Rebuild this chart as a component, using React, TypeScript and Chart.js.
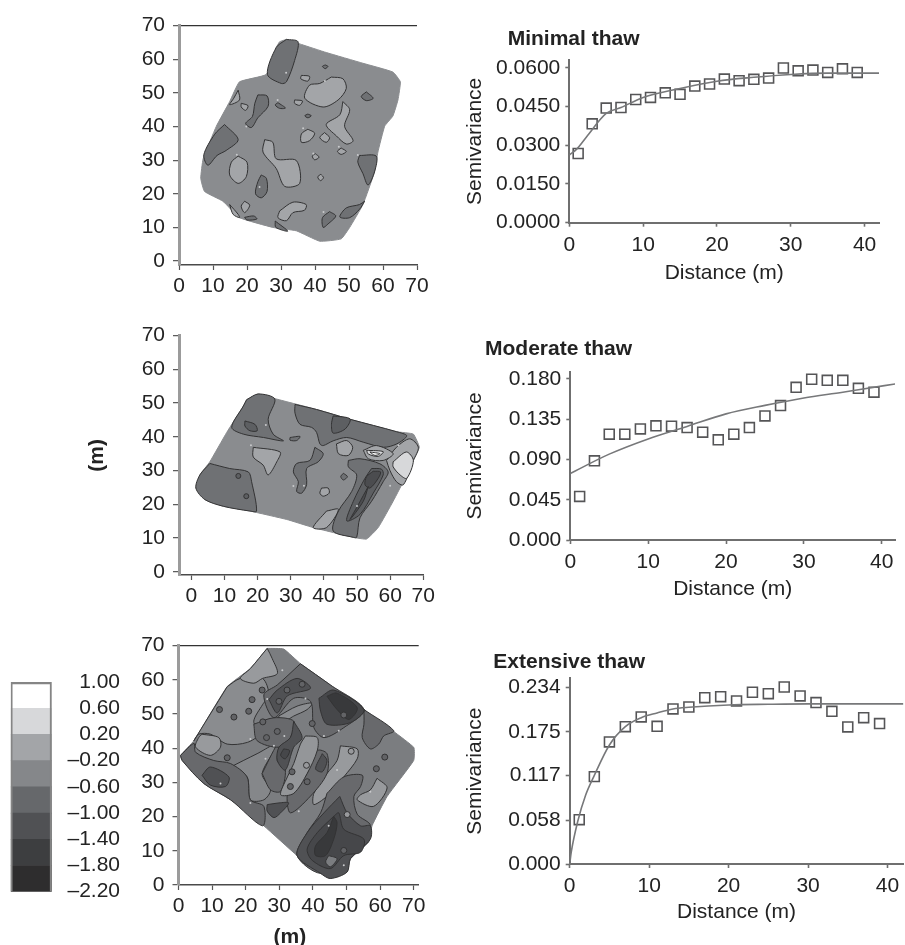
import React, { useEffect, useRef } from "react";
import { Chart, registerables } from "chart.js";

Chart.register(...registerables);

type P = [number, number];

const FONT = "'Liberation Sans', Arial, sans-serif";
const FS = 21;
const INK = "#232323";

// Legend
const LEGEND_TICKS = [-2.2, -1.8, -1.4, -1.0, -0.6, -0.2, 0.2, 0.6, 1.0];
const LEGEND_COLORS = ["#2e2d2e", "#3d3e40", "#505154", "#66686b", "#85878a", "#a3a5a8", "#d7d8da", "#ffffff"];
const [, , L5, , , L2, L1] = LEGEND_COLORS;
const MIDDLE = "#8a8c8f";

// Map ticks
const MAP_TICKS = [0, 10, 20, 30, 40, 50, 60, 70];

// Minimal-thaw map (metres)
const M1_OUTLINE: P[] = [[31.6,65.9],[36,64.4],[43.3,62],[54.1,58.8],[62.9,56.2],[65.1,53.3],[64.4,47.9],[62.9,43.1],[60.5,40.1],[58.5,32.4],[57.5,26.5],[54.1,16.8],[50.2,10],[47.7,6.6],[41.4,5.9],[34.5,9],[27.6,10],[17.8,12.9],[12.9,17.8],[7.5,20.7],[6.4,24.6],[7.1,30.4],[11,40.1],[14.9,47.4],[17.8,53.3],[25.7,55.5],[28.6,63.5],[29.6,65.2]];
const M1_DARK: P[][] = [
  [[31.6,65.9],[35,65.2],[34,59.6],[31.6,53.3],[30.1,52.8],[26,55.5],[28.6,63.5]],
  [[13.4,40.6],[17.4,36.1],[13.9,32.9],[11.2,31.4],[8.5,28.5],[7.3,31.6],[10.5,37.7]],
  [[23.2,49.4],[25.9,49.1],[26.2,46],[23.2,42.6],[21.3,39.7],[19.6,40.9],[21.6,43],[22.3,46.9]],
  [[24.2,25.6],[25.7,24.6],[25.9,20.7],[24.2,18.8],[22.5,20],[23.2,23.6]],
  [[53.1,31.4],[58,31.2],[57.5,26.5],[55.6,22.6],[54.1,26],[52.6,29.4]],
  [[44.3,14.7],[46.1,13.4],[43.8,11],[42.4,10],[42.2,12.9]],
  [[54.6,17.8],[53.1,15.4],[50.2,12.9],[47.3,13.1],[49.2,15.8],[53.1,16.8]],
  [[55.1,50.3],[57.1,48.4],[55.1,47.7],[53.6,48.9]],
  [[29.1,47.1],[31.3,45.5],[29.6,45.4],[28.3,46.4]],
  [[37.9,43.7],[38.9,43.2],[37.9,42.6],[37,43.2]],
  [[43,58.3],[43.8,57.9],[43,57.2],[42.2,57.9]],
  [[19.3,13],[22,13.4],[22.9,12.5],[20,12.2]],
  [[28.3,11.9],[32,8.9],[28.5,10]],
];
const M1_LIGHT: P[][] = [
  [[44.8,54.7],[48.2,54.2],[49.2,51.3],[46.8,47.9],[42.4,45.8],[37,48.4],[38.4,52.3],[41.4,52.8]],
  [[48.2,47.4],[50.2,45],[48.7,40.1],[51.2,35.8],[49.2,34.8],[46.3,37.2],[43.3,40.6],[47.3,43.5]],
  [[25.2,36.1],[27.6,35.3],[28.6,30.4],[34.5,29.9],[35.5,23.1],[31.1,22.2],[28.6,27.5],[24.7,32.4]],
  [[17.4,31.2],[20,29.4],[19.8,25.1],[17.4,23.1],[14.9,25.6],[15.4,29.4]],
  [[37.9,39.2],[39.9,38],[38.4,35.8],[36,35.3],[36,37.8]],
  [[42.8,38.2],[44.3,36.7],[43.3,35.3],[41.4,36.7]],
  [[36,55.2],[38.4,54.9],[37.9,53.5],[35.8,54.2]],
  [[34,47.9],[36.3,47.6],[35.5,46.3],[34,46.9]],
  [[29.6,14.9],[33.5,17.5],[37.4,16.8],[36.9,15.1],[33.5,14.4],[31.6,12],[29.1,12.9]],
  [[19.3,17.8],[20.8,16.6],[19.3,14.4],[18.3,16.3]],
  [[14.9,16.8],[17.4,13.9],[17.8,12.9],[15.9,13.9]],
  [[18.3,46.9],[20.3,46.2],[19.6,44.8],[18.3,45.8]],
  [[17.4,50.8],[17.8,47.9],[14.9,46.5],[16.1,48.4]],
  [[40.1,31.9],[41.2,30.9],[39.9,30.1],[39.2,31.2]],
  [[41.7,25.8],[42.5,24.8],[41.6,23.9],[40.8,25]],
  [[47.7,33.6],[49.2,32.6],[47.7,31.7],[46.6,32.6]],
];
const M1_SPECKS: P[] = [[42.9,53.5],[36.5,39.5],[31.5,56],[29,47.9],[19.8,40],[17,31.6],[23.7,22],[39.5,32],[52.6,31.5],[42.5,14.6],[47,34]];

// Moderate-thaw map
const M2_OUTLINE: P[] = [[16.7,51],[20.2,52.7],[25.7,51.2],[37.8,48.1],[47.9,45.2],[62,41.5],[67,40.8],[68.8,36.9],[67,33],[65,28.7],[60.9,20.9],[56.4,13.1],[52.9,9.7],[48.9,10.2],[36.8,13.1],[28.8,15.5],[17.7,18],[9.7,19.4],[4.1,21.4],[1.4,24.8],[2.6,28.7],[5.6,32.6],[10.7,41.3],[15.7,49.1]];
const M2_DARK: P[][] = [
  [[16.7,51],[20.2,52.7],[25.2,51.2],[23.2,45.2],[24.7,40.8],[27.8,38.8],[21.8,39.8],[15.7,40.8],[12.2,42.8],[15.7,49.1]],
  [[31.3,49.6],[37.8,48.1],[47.9,45.2],[62,41.5],[65,40.3],[62,37.9],[58,36.9],[51.9,38.4],[46.9,39.8],[42.8,38.8],[39.8,37.4],[38.8,37.9],[37.8,41.3],[36.3,42.8],[32.8,43.7],[31.3,47]],
  [[37.3,36.9],[39.8,35],[38.3,32.6],[34.8,30.6],[34.8,25.8],[33.3,23.3],[31.8,23.8],[32.3,26.7],[30.8,29.6],[31.8,32.1],[35.8,33]],
  [[5.6,32.1],[11.6,30.6],[17.2,29.6],[18.2,26.7],[19.7,18],[17.7,18],[9.7,19.4],[4.1,21.4],[1.4,24.8],[2.6,28.7]],
  [[29.8,39.8],[32.8,40.1],[31.8,38.9],[29.8,39]],
  [[45.9,29.2],[47.1,28.2],[45.9,27.2],[45.1,28.2]],
  [[47.4,33],[50.9,33.5],[56.9,32],[59.4,29.6],[57.9,26.7],[54.4,20.9],[50.9,16],[49.9,10.2],[48.9,10.2],[42.8,12.1],[44.4,18],[48.4,23.8],[49.9,28.7],[47.4,31.1]],
];
const M2_DARKER: P[][] = [
  [[16.2,44.7],[19.2,43.7],[19.9,41.8],[17.7,41.8],[16.2,43.2]],
  [[42.8,46.2],[47.9,45.3],[46.4,42.3],[42.8,41.1],[42.3,43.7]],
  [[54.4,30.6],[57.4,30.4],[57.9,28.7],[54.9,23.3],[50.9,17],[46.9,15.1],[48.9,20.9],[52.4,27.7]],
];
const M2_DARKEST: P[][] = [
  [[54.9,29.8],[57.1,29.6],[56.4,27.7],[53.9,24.8],[52.4,25.8],[52.9,28.2]],
  [[53.4,25.3],[51.9,20.9],[47.9,15.5],[50.4,19.9]],
];
const M2_LIGHT: P[][] = [
  [[18.7,36.9],[26.8,35.5],[25.8,32.6],[23.2,28.7],[21.7,31.6],[18.7,34]],
  [[43.8,37.9],[46.9,38.9],[48.7,36.9],[47.4,34.5],[44.4,35]],
  [[39.3,24.8],[41.3,24.8],[41.6,23.3],[39.8,22.4],[38.8,23.3]],
  [[40.8,18],[44.4,18.5],[40.8,13.1],[36.8,13.1]],
  [[58.9,33],[61.9,36.9],[65.9,39.4],[68.5,36.9],[67,33],[64,25.8],[61.9,26.7],[59.9,30.1]],
  [[51.9,36],[55.9,37.4],[60.9,35],[57.9,33],[53.4,33.5]],
];
const M2_PALE: P[][] = [
  [[60.9,32.6],[64.9,35.5],[67,33],[65,27.7],[63,28.7],[60.9,31.1]],
  [[52.9,36],[57.9,35.6],[56.4,34.2],[53.4,34.9]],
];
const M2_WHITE: P[][] = [[[53.9,35.5],[56.9,35],[55.4,34.5]]];
const M2_BLOBS: P[] = [[14.2,28.4],[16.6,22.4]];
const M2_SPECKS: P[] = [[22.5,43.5],[30.8,25.4],[34,25.5],[50,19.5],[60,25.5],[62.5,37.5],[18,37.5]];

// Extensive-thaw map
const M3_OUTLINE: P[] = [[26.4,69.2],[31.3,69],[36.3,64.7],[45.2,58.5],[55.2,51.3],[70,40.3],[70,36.4],[62.1,25.9],[57.6,17.3],[56.6,12.5],[51.2,7.7],[50.2,3.8],[45.2,1.9],[42.3,3.4],[35.3,8.6],[25.4,17.3],[15.5,24.9],[7.5,29.7],[1.1,36.4],[0.6,37.9],[4.6,42.2],[14.5,58],[21.4,63.3]];
const M3_WEST: P[][] = [
  [[14.5,58],[18.4,60.4],[25,60.4],[26.9,55.6],[25,52.7],[22.4,47.9],[23.9,44.1],[20.5,41.7],[14.5,41.2],[9.5,44.1],[6,44.1],[4.6,42.2]],
  [[29.8,49.4],[35.3,52.3],[39.8,53.2],[38.3,51.3],[34.3,49.4],[30.8,47.5]],
];
const M3_MID_LIGHT: P[][] = [
  [[15.5,34.5],[23.4,38.4],[29.4,41.2],[24.9,32.6],[27.4,27.8],[25.4,24.9],[21.4,24.9],[20.4,31.6]],
];
const M3_LIGHT: P[][] = [
  [[26.4,69.2],[27.9,66.2],[29.4,61.8],[25,60.4],[22.4,59],[18.4,60.4],[21.4,63.3]],
  [[48.2,40.7],[53.2,39.8],[53.2,36.9],[49.2,31.6],[45.2,26.8],[40.3,23.5],[40.3,26.8],[44.2,32.6],[47.2,36.4]],
  [[59.1,31.2],[62.1,28.4],[58.1,23],[53.2,24.9],[54.2,26.4],[57.1,27.8]],
  [[7,44.1],[12,43.1],[12.5,40.3],[9.5,37.9],[5.1,40.3],[6,43.1]],
];
const M3_STRIP: P[][] = [
  [[37.8,43.6],[41.3,43.1],[41.3,39.3],[38.3,32.6],[34.3,26.8],[30.4,26.4],[32.4,31.6],[34.3,35.5],[36.3,41.2]],
];
const M3_DARK: P[][] = [
  [[0.6,37.9],[4.6,41.4],[5.1,38.8],[10.5,36.4],[15.5,35.5],[20.4,31.6],[21.4,24.9],[25.4,23],[25,17.3],[15.5,24.9],[7.5,29.7],[1.1,36.4]],
  [[55.2,51.3],[64.1,45.1],[61.1,43.6],[59.6,41.2],[57.1,39.8],[54.7,43.1],[55.2,47]],
  [[24.9,32.6],[29.4,41.2],[29.9,40.3],[29.4,36.4],[31.8,33.6],[30.4,27.4],[27.4,27.8]],
  [[22.4,47],[28.4,48.9],[34.3,47.9],[33.3,43.1],[29.9,40.3],[23.4,42.2]],
  [[38.3,32.6],[41.3,39.3],[44.2,38.4],[44.2,32.6],[39.3,26],[33.3,21.1],[32.4,26.8],[34.3,26.8]],
  [[44.2,26.8],[49.2,31.6],[54.7,32.1],[54.2,28.8],[52.2,25.9],[53.2,20.7],[57.1,17.3],[51.2,7.7],[42.3,3.4],[35.3,8.6],[38.3,15.3],[42.3,21.1]],
  [[36.3,64.7],[45.2,58.5],[55.2,51.3],[49.2,46],[43.3,43.1],[40.3,46],[39.3,53.7],[34.3,54.6],[28.4,48.9],[25.4,55.6],[29.4,58.5]],
];
const M3_DARKER: P[][] = [
  [[7,32.1],[9.5,34.5],[15,31.6],[14,28.8],[9.5,29.2]],
  [[26.4,23.5],[29.9,24],[32.8,24],[30.4,21.1],[28.4,19.7],[26.4,21.6]],
  [[26.9,54.2],[29.4,57],[35.3,60.4],[39.3,57.5],[32.4,55.3],[29.4,50.3]],
  [[34.3,47.9],[36.8,43.1],[34.3,40.3],[31.8,33.6],[29.4,36.4],[29.9,40.3],[33.3,43.1]],
  [[42.8,38.4],[44.2,36.4],[42.8,33.1],[40.8,34]],
  [[48,25.9],[50.2,21.1],[54.2,17.3],[57.1,17.3],[57.1,13.4],[51.2,7.7],[50.2,3.8],[45.2,1.9],[42.3,3.4],[35.3,8.6],[38.3,15.3],[43.3,21.1]],
];
const M3_DEEP: P[][] = [
  [[41.8,54.6],[46.2,57],[55.2,51.3],[51.2,47.5],[44.2,47],[42.3,50.8]],
  [[31.3,39.8],[33.1,39.3],[31.8,36.9],[30.4,37.9]],
  [[46.2,20.1],[47.7,21.1],[49.2,16.3],[55.2,13.4],[54.2,9.6],[49.2,8.6],[45.2,4.8],[39.8,7.2],[38.3,10.5],[41.3,15.3]],
];
const M3_DEEPEST: P[][] = [
  [[44.2,55.2],[47.2,56.1],[53.2,51.8],[50.7,48.4],[47.2,51.3]],
  [[46.2,20.1],[47.2,18.2],[46.2,13.4],[43.8,8.6],[40.8,8.6],[40.8,11.5],[44.2,15.3]],
];
const M3_CENTER_ISLE: P[][] = [[[44.7,8.6],[47.2,7.7],[45.2,5.3],[43.8,6.7]]];
const M3_BLOBS: P[] = [[21.9,54.2],[12.2,51.3],[20.9,50.8],[16.5,49.1],[25.1,47.7],[29.4,44.9],[26.2,43.1],[14.5,37.2],[24.9,57],[32.3,57],[36.8,58.7],[29.9,53.7],[49.2,49.7],[39.8,47.2],[61.4,37.4],[58.9,34],[33.8,33.1],[33.3,28.8],[38.3,30.2],[49.2,10.1]];
const M3_PALE_BLOBS: P[] = [[51.4,39.1],[38.1,35],[50.2,20.6]];
const M3_SPECKS: P[] = [[30.9,62.8],[26.4,54.4],[21.4,42.7],[28.4,40.7],[31.5,43.6],[37.8,54.5],[43.3,43.6],[47.7,45.1],[47.2,33.6],[35.8,21.6],[21.4,24],[25.9,36.9],[44.7,17.3],[49.2,5.8],[57.1,27.3],[12.5,29.7]];

// Semivariograms
const DISTANCE = [1.2, 3.1, 5, 7, 9, 11, 13, 15, 17, 19, 21, 23, 25, 27, 29, 31, 33, 35, 37, 39];
const MIN_GAMMA = [0.0268,0.0383,0.0444,0.0446,0.0477,0.0485,0.0503,0.0497,0.0529,0.0537,0.0556,0.055,0.0555,0.056,0.0599,0.0588,0.0591,0.0582,0.0596,0.0582];
const MOD_GAMMA = [0.0487,0.0885,0.1183,0.1183,0.1242,0.1276,0.1272,0.1257,0.1205,0.112,0.1183,0.1257,0.1387,0.1503,0.1707,0.1797,0.1785,0.1785,0.1696,0.1652];
const EXT_GAMMA = [0.0587,0.1157,0.1616,0.1819,0.1947,0.1823,0.2053,0.2079,0.2203,0.2216,0.2159,0.2274,0.2256,0.2344,0.2225,0.2137,0.2022,0.1815,0.1938,0.1859];
const MIN_FIT: P[] = [[0,0.0262],[1,0.0285],[2.35,0.0333],[5,0.0423],[7,0.0446],[10,0.0485],[15,0.052],[20,0.0548],[25,0.0563],[30,0.0574],[35,0.0579],[42,0.0579]];
const MOD_FIT: P[] = [[0,0.0744],[5,0.096],[10,0.113],[15,0.127],[20,0.141],[25,0.1505],[30,0.1588],[35,0.1652],[37,0.168],[42,0.1748]];
const EXT_FIT: P[] = [[0,0],[0.2,0.016],[1,0.056],[2,0.091],[3,0.115],[5,0.1576],[7,0.1819],[9,0.1938],[11,0.2],[13,0.2053],[15,0.2075],[20,0.2106],[25,0.2115],[30,0.212],[42,0.212]];
const DIST_TICKS = [0, 10, 20, 30, 40];
const MIN_TICKS = [0, 0.015, 0.03, 0.045, 0.06];
const MOD_TICKS = [0, 0.045, 0.09, 0.135, 0.18];
const EXT_TICKS = [0, 0.058, 0.117, 0.175, 0.234];

const font = (weight = "normal") => ({ family: FONT, size: FS, weight, lineHeight: 1.2 });
const LH = FS * 1.2;

type Box = { l: number; r: number; t: number; b: number };

function polyDs(points: P[], color: string, line = "#333334", width = 1, tension = 0.3) {
  return {
    data: points.concat([points[0]]).map(([x, y]) => ({ x, y })),
    showLine: true,
    fill: "shape",
    backgroundColor: color,
    borderColor: line,
    borderWidth: width,
    tension,
    pointRadius: 0,
  };
}
function dotDs(points: P[], color: string, r: number, line: string, w: number) {
  return {
    data: points.map(([x, y]) => ({ x, y })),
    showLine: false,
    backgroundColor: color,
    borderColor: line,
    borderWidth: w,
    pointRadius: r,
    pointStyle: "circle",
  };
}
function stack(list: any[]) {
  return list.map((d, i) => ({ ...d, order: list.length - i }));
}

function fixedTicks(values: number[]) {
  return (axis: any) => {
    axis.ticks = values.map((value) => ({ value }));
  };
}

function mapConfig(o: { canvas: Box; area: Box; xMin: number; xMax: number; yMin: number; top: boolean; sets: any[]; xTitle?: string; yTitle?: string }) {
  const { canvas, area } = o;
  return {
    type: "scatter",
    data: { datasets: stack(o.sets) },
    options: {
      responsive: false,
      animation: false,
      events: [],
      layout: { padding: { left: 0, right: canvas.r - area.r, top: area.t - canvas.t, bottom: 0 } },
      plugins: { legend: { display: false }, tooltip: { enabled: false } },
      scales: {
        x: {
          type: "linear",
          min: o.xMin,
          max: o.xMax,
          afterBuildTicks: fixedTicks(MAP_TICKS),
          afterFit: (s: any) => { s.height = canvas.b - area.b; },
          grid: { drawOnChartArea: false, tickLength: 5, tickColor: "#555", tickWidth: 1.2 },
          border: { color: "#4a4a4a", width: 1.5 },
          ticks: { autoSkip: false, maxRotation: 0, color: INK, font: font(), padding: 3.5 },
          title: o.xTitle ? { display: true, text: o.xTitle, color: INK, font: font("bold"), padding: { top: 0, bottom: 0 } } : { display: false },
        },
        y: {
          type: "linear",
          min: o.yMin,
          max: 70,
          afterBuildTicks: fixedTicks(MAP_TICKS),
          afterFit: (s: any) => { s.width = area.l - canvas.l; },
          grid: {
            drawOnChartArea: o.top,
            tickLength: 6,
            tickColor: "#555",
            tickWidth: 1.2,
            lineWidth: 1.3,
            color: (c: any) => (c.tick && c.tick.value === 70 ? "#333" : "rgba(0,0,0,0)"),
          },
          border: { color: "#9b9b9b", width: 3 },
          ticks: { autoSkip: false, color: INK, font: font(), padding: 8 },
          title: o.yTitle ? { display: true, text: o.yTitle, color: INK, font: font("bold"), padding: { top: 0, bottom: 0 } } : { display: false },
        },
      },
    },
  };
}

function varioConfig(o: { canvas: Box; area: Box; title: string; titleX: number; xMax: number; yMax: number; ticks: number[]; digits: number; values: number[]; fit: P[] }) {
  const { canvas, area } = o;
  const axisBorder = { color: "#6f6f6f", width: 2 };
  return {
    type: "scatter",
    data: {
      datasets: stack([
        {
          data: DISTANCE.map((x, i) => ({ x, y: o.values[i] })),
          showLine: false,
          pointStyle: "rect",
          pointRadius: 7,
          borderWidth: 1.6,
          borderColor: "#555557",
          backgroundColor: "rgba(0,0,0,0)",
        },
        {
          data: o.fit.map(([x, y]) => ({ x, y })),
          showLine: true,
          pointRadius: 0,
          borderWidth: 1.6,
          borderColor: "#77787a",
          cubicInterpolationMode: "monotone",
        },
      ]),
    },
    plugins: [
      {
        id: "titleStart",
        afterLayout(chart: any) {
          if (chart.titleBlock) chart.titleBlock.left = o.titleX - canvas.l;
        },
      },
    ],
    options: {
      responsive: false,
      animation: false,
      events: [],
      layout: { padding: { left: 0, right: canvas.r - area.r, top: 0, bottom: 0 } },
      plugins: {
        legend: { display: false },
        tooltip: { enabled: false },
        title: {
          display: true,
          text: o.title,
          align: "start",
          color: INK,
          font: font("bold"),
          padding: { top: 0, bottom: area.t - canvas.t - LH },
        },
      },
      scales: {
        x: {
          type: "linear",
          min: 0,
          max: o.xMax,
          afterBuildTicks: fixedTicks(DIST_TICKS),
          afterFit: (s: any) => { s.height = canvas.b - area.b; },
          grid: { drawOnChartArea: false, tickLength: 4, tickColor: "#6f6f6f", tickWidth: 1.6 },
          border: axisBorder,
          ticks: { autoSkip: false, maxRotation: 0, color: INK, font: font(), padding: 5.5 },
          title: { display: true, text: "Distance (m)", color: INK, font: font(), padding: { top: 0, bottom: 0 } },
        },
        y: {
          type: "linear",
          min: 0,
          max: o.yMax,
          afterBuildTicks: fixedTicks(o.ticks),
          afterFit: (s: any) => { s.width = area.l - canvas.l; },
          grid: { drawOnChartArea: false, tickLength: 4, tickColor: "#6f6f6f", tickWidth: 1.6 },
          border: axisBorder,
          ticks: {
            autoSkip: false,
            color: INK,
            font: font(),
            padding: 5,
            callback: (v: any) => Number(v).toFixed(o.digits),
          },
          title: { display: true, text: "Semivariance", color: INK, font: font(), padding: { top: 2.4, bottom: 0 } },
        },
      },
    },
  };
}

function legendConfig(canvas: Box, area: Box) {
  const datasets: any[] = LEGEND_COLORS.map((c, i) => ({
    data: [[LEGEND_TICKS[i], LEGEND_TICKS[i + 1]]],
    backgroundColor: c,
    borderWidth: 0,
    barPercentage: 1,
    categoryPercentage: 1,
    order: 2,
  }));
  datasets.push({
    data: [[LEGEND_TICKS[0], LEGEND_TICKS[8]]],
    backgroundColor: "rgba(0,0,0,0)",
    borderColor: "#858585",
    borderWidth: { top: 2, left: 1.5, right: 1.5, bottom: 0 },
    borderSkipped: false,
    barPercentage: 1,
    categoryPercentage: 1,
    order: 1,
  });
  return {
    type: "bar",
    data: { labels: [""], datasets },
    options: {
      responsive: false,
      animation: false,
      events: [],
      layout: { padding: { left: area.l - canvas.l, right: 0, top: area.t - canvas.t, bottom: canvas.b - area.b } },
      plugins: { legend: { display: false }, tooltip: { enabled: false } },
      scales: {
        x: { display: false, stacked: true },
        y: {
          position: "right",
          min: -2.2,
          max: 1,
          afterBuildTicks: fixedTicks(LEGEND_TICKS),
          afterFit: (s: any) => { s.width = canvas.r - area.r; },
          grid: { display: false, drawTicks: false },
          border: { display: false },
          ticks: {
            autoSkip: false,
            crossAlign: "far",
            color: INK,
            font: font(),
            callback: (v: any) => Number(v).toFixed(2).replace("-", "\u2013"),
          },
        },
      },
    },
  };
}

const many = (list: P[][], color: string) => list.map((p) => polyDs(p, color));
const SPECK = "#c9cacc";

const BOX_MAP1: Box = { l: 130, t: 5, r: 440, b: 305 };
const BOX_MAP2: Box = { l: 85, t: 315, r: 445, b: 615 };
const BOX_MAP3: Box = { l: 130, t: 625, r: 440, b: 950 };
const BOX_V1: Box = { l: 460, t: 27, r: 895, b: 286 };
const BOX_V2: Box = { l: 460, t: 337, r: 905, b: 602 };
const BOX_V3: Box = { l: 460, t: 650, r: 912, b: 925 };
const BOX_LEGEND: Box = { l: 0, t: 655, r: 120, b: 915 };

const MAP1 = mapConfig({
  canvas: BOX_MAP1,
  area: { l: 179, r: 417, t: 21, b: 265 },
  xMin: 0, xMax: 70, yMin: -1.17, top: true,
  sets: [polyDs(M1_OUTLINE, MIDDLE, MIDDLE, 1, 0.12), ...many(M1_DARK, "#6f7174"), ...many(M1_LIGHT, L2), dotDs(M1_SPECKS, SPECK, 1, SPECK, 0)],
});
const MAP2 = mapConfig({
  canvas: BOX_MAP2,
  area: { l: 179, r: 423.3, t: 331.7, b: 575 },
  xMin: -3.7, xMax: 70, yMin: -0.96, top: false, yTitle: "(m)",
  sets: [polyDs(M2_OUTLINE, MIDDLE, MIDDLE, 1, 0.12), ...many(M2_DARK, "#6f7174"), ...many(M2_DARKER, "#5d5f62"), ...many(M2_DARKEST, "#4b4c4f"), ...many(M2_LIGHT, L2), ...many(M2_PALE, L1), ...many(M2_WHITE, "#ffffff"), dotDs(M2_BLOBS, "#5d5f62", 2.5, "#333334", 1), dotDs(M2_SPECKS, SPECK, 1, SPECK, 0)],
});
const MAP3 = mapConfig({
  canvas: BOX_MAP3,
  area: { l: 178.5, r: 418.7, t: 641.7, b: 885 },
  xMin: 0, xMax: 71.5, yMin: 0, top: true, xTitle: "(m)\u00a0\u00a0\u00a0",
  sets: [polyDs(M3_OUTLINE, "#7b7d80", "#7b7d80", 1, 0.12), ...many(M3_WEST, MIDDLE), ...many(M3_MID_LIGHT, "#85878a"), ...many(M3_LIGHT, "#989a9d"), ...many(M3_DARK, "#68696c"), ...many(M3_STRIP, "#949699"), ...many(M3_DARKER, L5), ...many(M3_DEEP, "#46474a"), ...many(M3_DEEPEST, "#38393b"), ...many(M3_CENTER_ISLE, "#7b7d80"), dotDs(M3_BLOBS, "#626366", 3, "#333334", 1), dotDs(M3_PALE_BLOBS, "#98999c", 3, "#333334", 1), dotDs(M3_SPECKS, SPECK, 1, SPECK, 0)],
});
const VARIO1 = varioConfig({
  canvas: BOX_V1,
  area: { l: 569.3, r: 879, t: 60, b: 222.7 },
  title: "Minimal thaw", titleX: 507.7, xMax: 41.95, yMax: 0.063, ticks: MIN_TICKS, digits: 4, values: MIN_GAMMA, fit: MIN_FIT,
});
const VARIO2 = varioConfig({
  canvas: BOX_V2,
  area: { l: 570.3, r: 895, t: 372, b: 540 },
  title: "Moderate thaw", titleX: 485, xMax: 41.7, yMax: 0.1878, ticks: MOD_TICKS, digits: 3, values: MOD_GAMMA, fit: MOD_FIT,
});
const VARIO3 = varioConfig({
  canvas: BOX_V3,
  area: { l: 569.7, r: 908.7, t: 678.3, b: 864 },
  title: "Extensive thaw", titleX: 493.3, xMax: 42, yMax: 0.2459, ticks: EXT_TICKS, digits: 3, values: EXT_GAMMA, fit: EXT_FIT,
});
const LEGEND = legendConfig(BOX_LEGEND, { l: 10.7, r: 51.7, t: 682, b: 891.7 });

const PANELS: { key: string; canvas: Box; config: any }[] = [
  { key: "map1", canvas: BOX_MAP1, config: MAP1 },
  { key: "map2", canvas: BOX_MAP2, config: MAP2 },
  { key: "map3", canvas: BOX_MAP3, config: MAP3 },
  { key: "v1", canvas: BOX_V1, config: VARIO1 },
  { key: "v2", canvas: BOX_V2, config: VARIO2 },
  { key: "v3", canvas: BOX_V3, config: VARIO3 },
  { key: "legend", canvas: BOX_LEGEND, config: LEGEND },
];

function Panel({ canvas, config }: { canvas: Box; config: any }) {
  const ref = useRef<HTMLCanvasElement | null>(null);
  useEffect(() => {
    const chart = new Chart(ref.current as HTMLCanvasElement, config);
    return () => chart.destroy();
  }, [config]);
  return (
    <canvas
      ref={ref}
      width={canvas.r - canvas.l}
      height={canvas.b - canvas.t}
      style={{ position: "absolute", left: canvas.l, top: canvas.t, width: canvas.r - canvas.l, height: canvas.b - canvas.t, filter: "blur(0.4px)" }}
    />
  );
}

export default function App() {
  return (
    <div style={{ position: "fixed", left: 0, top: 0, width: 905, height: 945, overflow: "hidden", background: "#fff" }}>
      {PANELS.map((p) => (
        <Panel key={p.key} canvas={p.canvas} config={p.config} />
      ))}
    </div>
  );
}
